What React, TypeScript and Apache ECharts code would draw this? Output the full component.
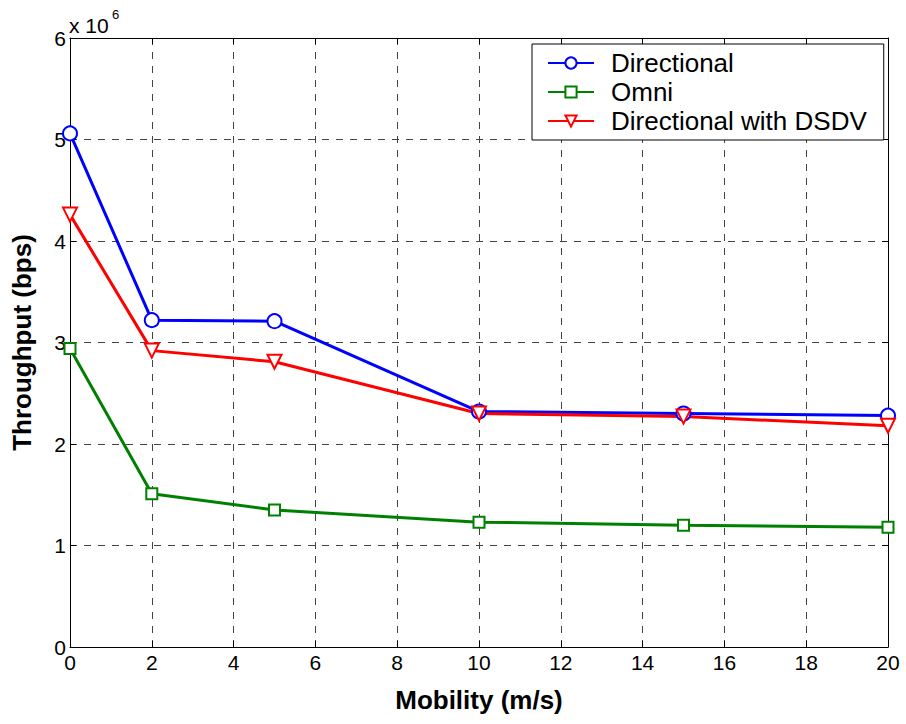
import React, { useEffect, useRef } from "react";
import * as echarts from "echarts";

const mobility = [0, 2, 5, 10, 15, 20];
const directional = [5.06, 3.22, 3.21, 2.32, 2.3, 2.28];
const omni = [2.94, 1.51, 1.35, 1.23, 1.2, 1.18];
const directionalDSDV = [4.26, 2.92, 2.81, 2.3, 2.27, 2.18];
const seriesNames = ["Directional", "Omni", "Directional with DSDV"];
const xTitle = "Mobility (m/s)";
const yTitle = "Throughput (bps)";

const FONT = "Liberation Sans, Arial, sans-serif";

export default function App() {
  const ref = useRef<HTMLDivElement>(null);
  useEffect(() => {
    if (!ref.current) return;
    const chart = echarts.init(ref.current, undefined, { renderer: "svg" });
    const pairs = (ys: number[]) => mobility.map((x, i) => [x, ys[i]]);
    const gridLine = { show: true, lineStyle: { color: "#444", type: [7, 7] as any, width: 1 } };
    const common = {
      type: "line" as const,
      lineStyle: { width: 3 },
      symbolKeepAspect: true,
      z: 3,
    };
    chart.setOption({
      animation: false,
      backgroundColor: "#fff",
      textStyle: { fontFamily: FONT },
      grid: { left: 70, right: 18, top: 38, bottom: 77 },
      legend: {
        orient: "vertical",
        left: 532,
        top: 44,
        padding: [6, 17, 6, 15],
        itemGap: 3,
        itemWidth: 46,
        itemHeight: 14,
        backgroundColor: "#fff",
        borderColor: "#000",
        borderWidth: 1,
        borderRadius: 0,
        textStyle: { fontSize: 26, lineHeight: 26, color: "#000", fontFamily: FONT, padding: [0, 0, 0, 12] },
        data: seriesNames,
      },
      xAxis: [
        {
          type: "value",
          min: 0,
          max: 20,
          interval: 2,
          name: xTitle,
          nameLocation: "middle",
          nameGap: 40,
          nameTextStyle: { fontSize: 26, fontWeight: "bold", color: "#000", fontFamily: FONT },
          axisLine: { show: true, onZero: false, lineStyle: { color: "#000", width: 1 } },
          axisTick: { show: true, inside: true, length: 6, lineStyle: { color: "#000" } },
          axisLabel: { fontSize: 21, color: "#000", margin: 5, fontFamily: FONT },
          splitLine: gridLine,
        },
        {
          type: "value",
          position: "top",
          min: 0,
          max: 20,
          interval: 2,
          axisLine: { show: true, onZero: false, lineStyle: { color: "#000", width: 1 } },
          axisTick: { show: true, inside: true, length: 6, lineStyle: { color: "#000" } },
          axisLabel: { show: false },
          splitLine: { show: false },
        },
      ],
      yAxis: [
        {
          type: "value",
          min: 0,
          max: 6,
          interval: 1,
          name: yTitle,
          nameLocation: "middle",
          nameGap: 35,
          nameTextStyle: { fontSize: 26, fontWeight: "bold", color: "#000", fontFamily: FONT },
          axisLine: { show: true, onZero: false, lineStyle: { color: "#000", width: 1 } },
          axisTick: { show: true, inside: true, length: 6, lineStyle: { color: "#000" } },
          axisLabel: { fontSize: 21, color: "#000", margin: 4, fontFamily: FONT },
          splitLine: gridLine,
        },
        {
          type: "value",
          position: "right",
          min: 0,
          max: 6,
          interval: 1,
          axisLine: { show: true, onZero: false, lineStyle: { color: "#000", width: 1 } },
          axisTick: { show: true, inside: true, length: 6, lineStyle: { color: "#000" } },
          axisLabel: { show: false },
          splitLine: { show: false },
        },
      ],
      graphic: [
        { type: "text", left: 69, top: 15, style: { text: "x 10", fontSize: 21, fill: "#000", fontFamily: FONT } },
        { type: "text", left: 112, top: 8, style: { text: "6", fontSize: 13, fill: "#000", fontFamily: FONT } },
      ],
      series: [
        {
          ...common,
          name: seriesNames[0],
          data: pairs(directional),
          color: "#0000ff",
          symbol: "emptyCircle",
          symbolSize: 14,
          itemStyle: { color: "#0000ff", borderWidth: 2.5 },
        },
        {
          ...common,
          name: seriesNames[1],
          data: pairs(omni),
          color: "#008000",
          symbol: "emptyRect",
          symbolSize: 11,
          itemStyle: { color: "#008000", borderWidth: 2.5 },
        },
        {
          ...common,
          name: seriesNames[2],
          data: pairs(directionalDSDV),
          color: "#ff0000",
          symbol: "emptyTriangle",
          symbolRotate: 180,
          symbolSize: 14,
          itemStyle: { color: "#ff0000", borderWidth: 2.5 },
        },
      ],
    });
    return () => chart.dispose();
  }, []);
  return <div ref={ref} style={{ position: "fixed", left: 0, top: 0, width: 906, height: 724 }} />;
}
